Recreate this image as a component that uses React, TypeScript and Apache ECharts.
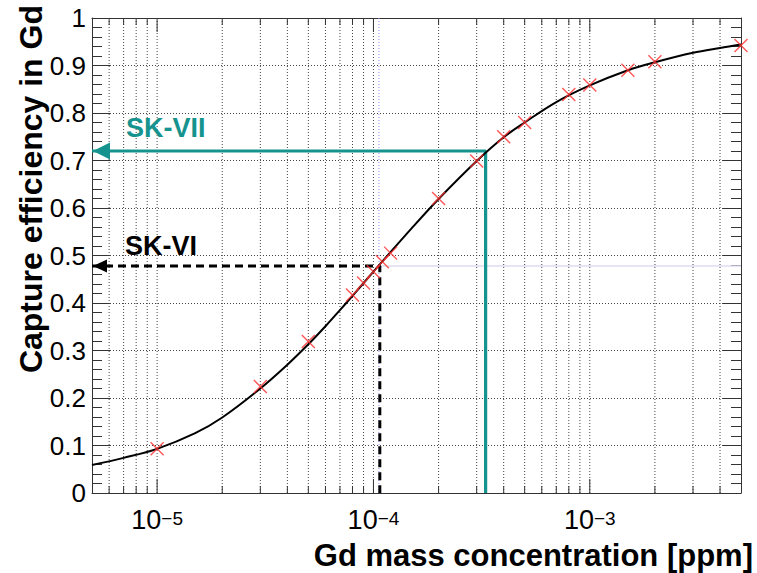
import React, { useEffect, useRef } from 'react';
import * as echarts from 'echarts';

// Axis range (Gd mass concentration, ppm) and efficiency range
const xMin = 5e-6;
const xMax = 5e-3;
const yMin = 0;
const yMax = 1;

// Fitted capture-efficiency curve
const curveConc = [5e-6, 7e-6, 1e-5, 1.5e-5, 2e-5, 3e-5, 4e-5, 5e-5, 6e-5, 7e-5, 8e-5, 1e-4, 1.5e-4, 2e-4, 3e-4, 4e-4, 5e-4, 7e-4, 1e-3, 1.5e-3, 2e-3, 3e-3, 4e-3, 5e-3];
const curveEff = [0.059, 0.074, 0.093, 0.126, 0.159, 0.22, 0.27, 0.313, 0.351, 0.385, 0.415, 0.466, 0.557, 0.619, 0.699, 0.749, 0.78, 0.823, 0.858, 0.89, 0.907, 0.927, 0.937, 0.944];

// Simulated points
const pointConc = [1e-5, 3e-5, 5e-5, 8e-5, 9e-5, 1e-4, 1.1e-4, 1.2e-4, 2e-4, 3e-4, 4e-4, 5e-4, 8e-4, 1e-3, 1.5e-3, 2e-3, 5e-3];
const pointEff = [0.093, 0.224, 0.319, 0.417, 0.442, 0.466, 0.487, 0.505, 0.62, 0.699, 0.75, 0.78, 0.839, 0.859, 0.89, 0.908, 0.942];

// SK phases
const skNames = ['SK-VII', 'SK-VI'];
const skConc = [3.3e-4, 1.07e-4];
const skEff = [0.72, 0.478];

// Faint guide lines
const guideConc = 1.06e-4;
const guideEff = 0.478;

// X axis ticks
const xMajorTicks = [1e-5, 1e-4, 1e-3];
const xMajorExponents = ['\u22125', '\u22124', '\u22123'];
const xMinorTicks = [
  6e-6, 7e-6, 8e-6, 9e-6,
  2e-5, 3e-5, 4e-5, 5e-5, 6e-5, 7e-5, 8e-5, 9e-5,
  2e-4, 3e-4, 4e-4, 5e-4, 6e-4, 7e-4, 8e-4, 9e-4,
  2e-3, 3e-3, 4e-3,
];

const FONT = '"Liberation Sans", Arial, Helvetica, sans-serif';
const TEAL = '#16938e';
const FRAME = '#333';

export default function App() {
  const ref = useRef<HTMLDivElement>(null);

  useEffect(() => {
    if (!ref.current) return;
    const chart = echarts.init(ref.current, undefined, { renderer: 'svg' });

    const xGridData = [
      ...xMajorTicks.map((v, i) => [v, 1, i]),
      ...xMinorTicks.map((v) => [v, 0, -1]),
    ];

    const yAxisCommon = {
      type: 'value' as const,
      min: yMin,
      max: yMax,
      interval: 0.1,
      axisLine: { show: true, lineStyle: { color: FRAME, width: 1 } },
      axisTick: { show: true, inside: true, length: 18, lineStyle: { color: FRAME, width: 1 } },
      minorTick: { show: true, splitNumber: 5, length: 10, lineStyle: { color: FRAME, width: 1 } },
    };

    const xAxisCommon = {
      type: 'log' as const,
      logBase: 10,
      min: xMin,
      max: xMax,
      axisLine: { show: true, onZero: false, lineStyle: { color: FRAME, width: 1 } },
      axisTick: { show: false },
      axisLabel: { show: false },
      splitLine: { show: false },
      minorTick: { show: false },
    };

    const option: any = {
      animation: false,
      backgroundColor: '#fff',
      grid: { left: 92, right: 16, top: 18, bottom: 80, containLabel: false },
      xAxis: [
        { ...xAxisCommon, position: 'bottom' },
        { ...xAxisCommon, position: 'top' },
      ],
      yAxis: [
        {
          ...yAxisCommon,
          position: 'left',
          axisLabel: { show: true, fontSize: 26, fontFamily: FONT, color: '#000', margin: 6 },
          splitLine: { show: true, lineStyle: { color: '#444', width: 1, type: [1, 2] } },
        },
        {
          ...yAxisCommon,
          position: 'right',
          axisLabel: { show: false },
          splitLine: { show: false },
        },
      ],
      graphic: [
        {
          type: 'text',
          x: 31,
          y: 5,
          rotation: Math.PI / 2,
          style: {
            text: 'Capture efficiency in Gd',
            font: `bold 32px ${FONT}`,
            fill: '#000',
            align: 'right',
            verticalAlign: 'middle',
          },
        },
        {
          type: 'text',
          x: 753,
          y: 555,
          style: {
            text: 'Gd mass concentration [ppm]',
            font: `bold 31px ${FONT}`,
            fill: '#000',
            align: 'right',
            verticalAlign: 'middle',
          },
        },
      ],
      series: [
        // vertical log grid, x ticks (bottom & top) and decade labels
        {
          type: 'custom',
          xAxisIndex: 0,
          yAxisIndex: 0,
          silent: true,
          clip: false,
          z: 1,
          data: xGridData,
          renderItem: (_params: any, api: any) => {
            const x = api.value(0);
            const major = api.value(1) === 1;
            const idx = api.value(2);
            const b = api.coord([x, yMin]);
            const t = api.coord([x, yMax]);
            const tl = major ? 14 : 7;
            const children: any[] = [
              {
                type: 'line',
                shape: { x1: b[0], y1: b[1], x2: t[0], y2: t[1] },
                style: { stroke: '#444', lineWidth: 1, lineDash: [1, 2] },
              },
              {
                type: 'line',
                shape: { x1: b[0], y1: b[1], x2: b[0], y2: b[1] - tl },
                style: { stroke: FRAME, lineWidth: 1 },
              },
              {
                type: 'line',
                shape: { x1: t[0], y1: t[1], x2: t[0], y2: t[1] + tl },
                style: { stroke: FRAME, lineWidth: 1 },
              },
            ];
            if (major) {
              children.push({
                type: 'text',
                x: b[0],
                y: b[1] + 16,
                style: {
                  text: `{b|10}{s|${xMajorExponents[idx]}}`,
                  align: 'center',
                  verticalAlign: 'top',
                  rich: {
                    b: { fontSize: 27, fontFamily: FONT, fill: '#000', lineHeight: 24, verticalAlign: 'bottom' },
                    s: { fontSize: 19, fontFamily: FONT, fill: '#000', lineHeight: 16, verticalAlign: 'top' },
                  },
                },
              });
            }
            return { type: 'group', children };
          },
        },
        // faint guide lines
        {
          type: 'line',
          silent: true,
          showSymbol: false,
          z: 1,
          data: [[guideConc, yMin], [guideConc, yMax]],
          lineStyle: { color: '#8f8fff', width: 1, type: [1, 2] },
        },
        {
          type: 'line',
          silent: true,
          showSymbol: false,
          z: 1,
          data: [[guideConc, guideEff], [xMax, guideEff]],
          lineStyle: { color: '#dcdcef', width: 1.5 },
        },
        // SK-VII solid teal guide
        {
          type: 'line',
          silent: true,
          showSymbol: false,
          z: 3,
          data: [[xMin, skEff[0]], [skConc[0], skEff[0]], [skConc[0], yMin]],
          lineStyle: { color: TEAL, width: 3.2 },
        },
        // SK-VI dashed black guide
        {
          type: 'line',
          silent: true,
          showSymbol: false,
          z: 3,
          data: [[xMin, skEff[1]], [skConc[1], skEff[1]], [skConc[1], yMin]],
          lineStyle: { color: '#000', width: 3, type: [8, 5] },
        },
        // arrow heads and phase labels
        {
          type: 'custom',
          silent: true,
          clip: false,
          z: 4,
          data: skEff.map((e, i) => [xMin, e, i]),
          renderItem: (_params: any, api: any) => {
            const i = api.value(2);
            const p = api.coord([api.value(0), api.value(1)]);
            const color = i === 0 ? TEAL : '#000';
            const len = i === 0 ? 17 : 14;
            const half = i === 0 ? 8.5 : 6.5;
            const tip = p[0] + 1;
            return {
              type: 'group',
              children: [
                {
                  type: 'polygon',
                  shape: { points: [[tip, p[1]], [tip + len, p[1] - half], [tip + len, p[1] + half]] },
                  style: { fill: color },
                },
                {
                  type: 'text',
                  x: p[0] + (i === 0 ? 34 : 33),
                  y: p[1] - (i === 0 ? 23 : 20),
                  style: {
                    text: skNames[i],
                    font: `bold 27px ${FONT}`,
                    fill: color,
                    align: 'left',
                    verticalAlign: 'middle',
                  },
                },
              ],
            };
          },
        },
        // fitted curve
        {
          type: 'line',
          silent: true,
          showSymbol: false,
          smooth: 0.35,
          z: 5,
          data: curveConc.map((c, i) => [c, curveEff[i]]),
          lineStyle: { color: '#000', width: 2 },
        },
        // simulated points
        {
          type: 'scatter',
          silent: true,
          z: 6,
          symbol: 'path://M0,0L13,13M13,0L0,13',
          symbolSize: 13,
          data: pointConc.map((c, i) => [c, pointEff[i]]),
          itemStyle: { color: 'rgba(0,0,0,0)', borderColor: '#ff2d2d', borderWidth: 1.4 },
        },
      ],
    };

    chart.setOption(option);
    return () => chart.dispose();
  }, []);

  return (
    <div
      ref={ref}
      style={{ position: 'fixed', left: 0, top: 0, width: 757, height: 573, background: '#fff' }}
    />
  );
}
